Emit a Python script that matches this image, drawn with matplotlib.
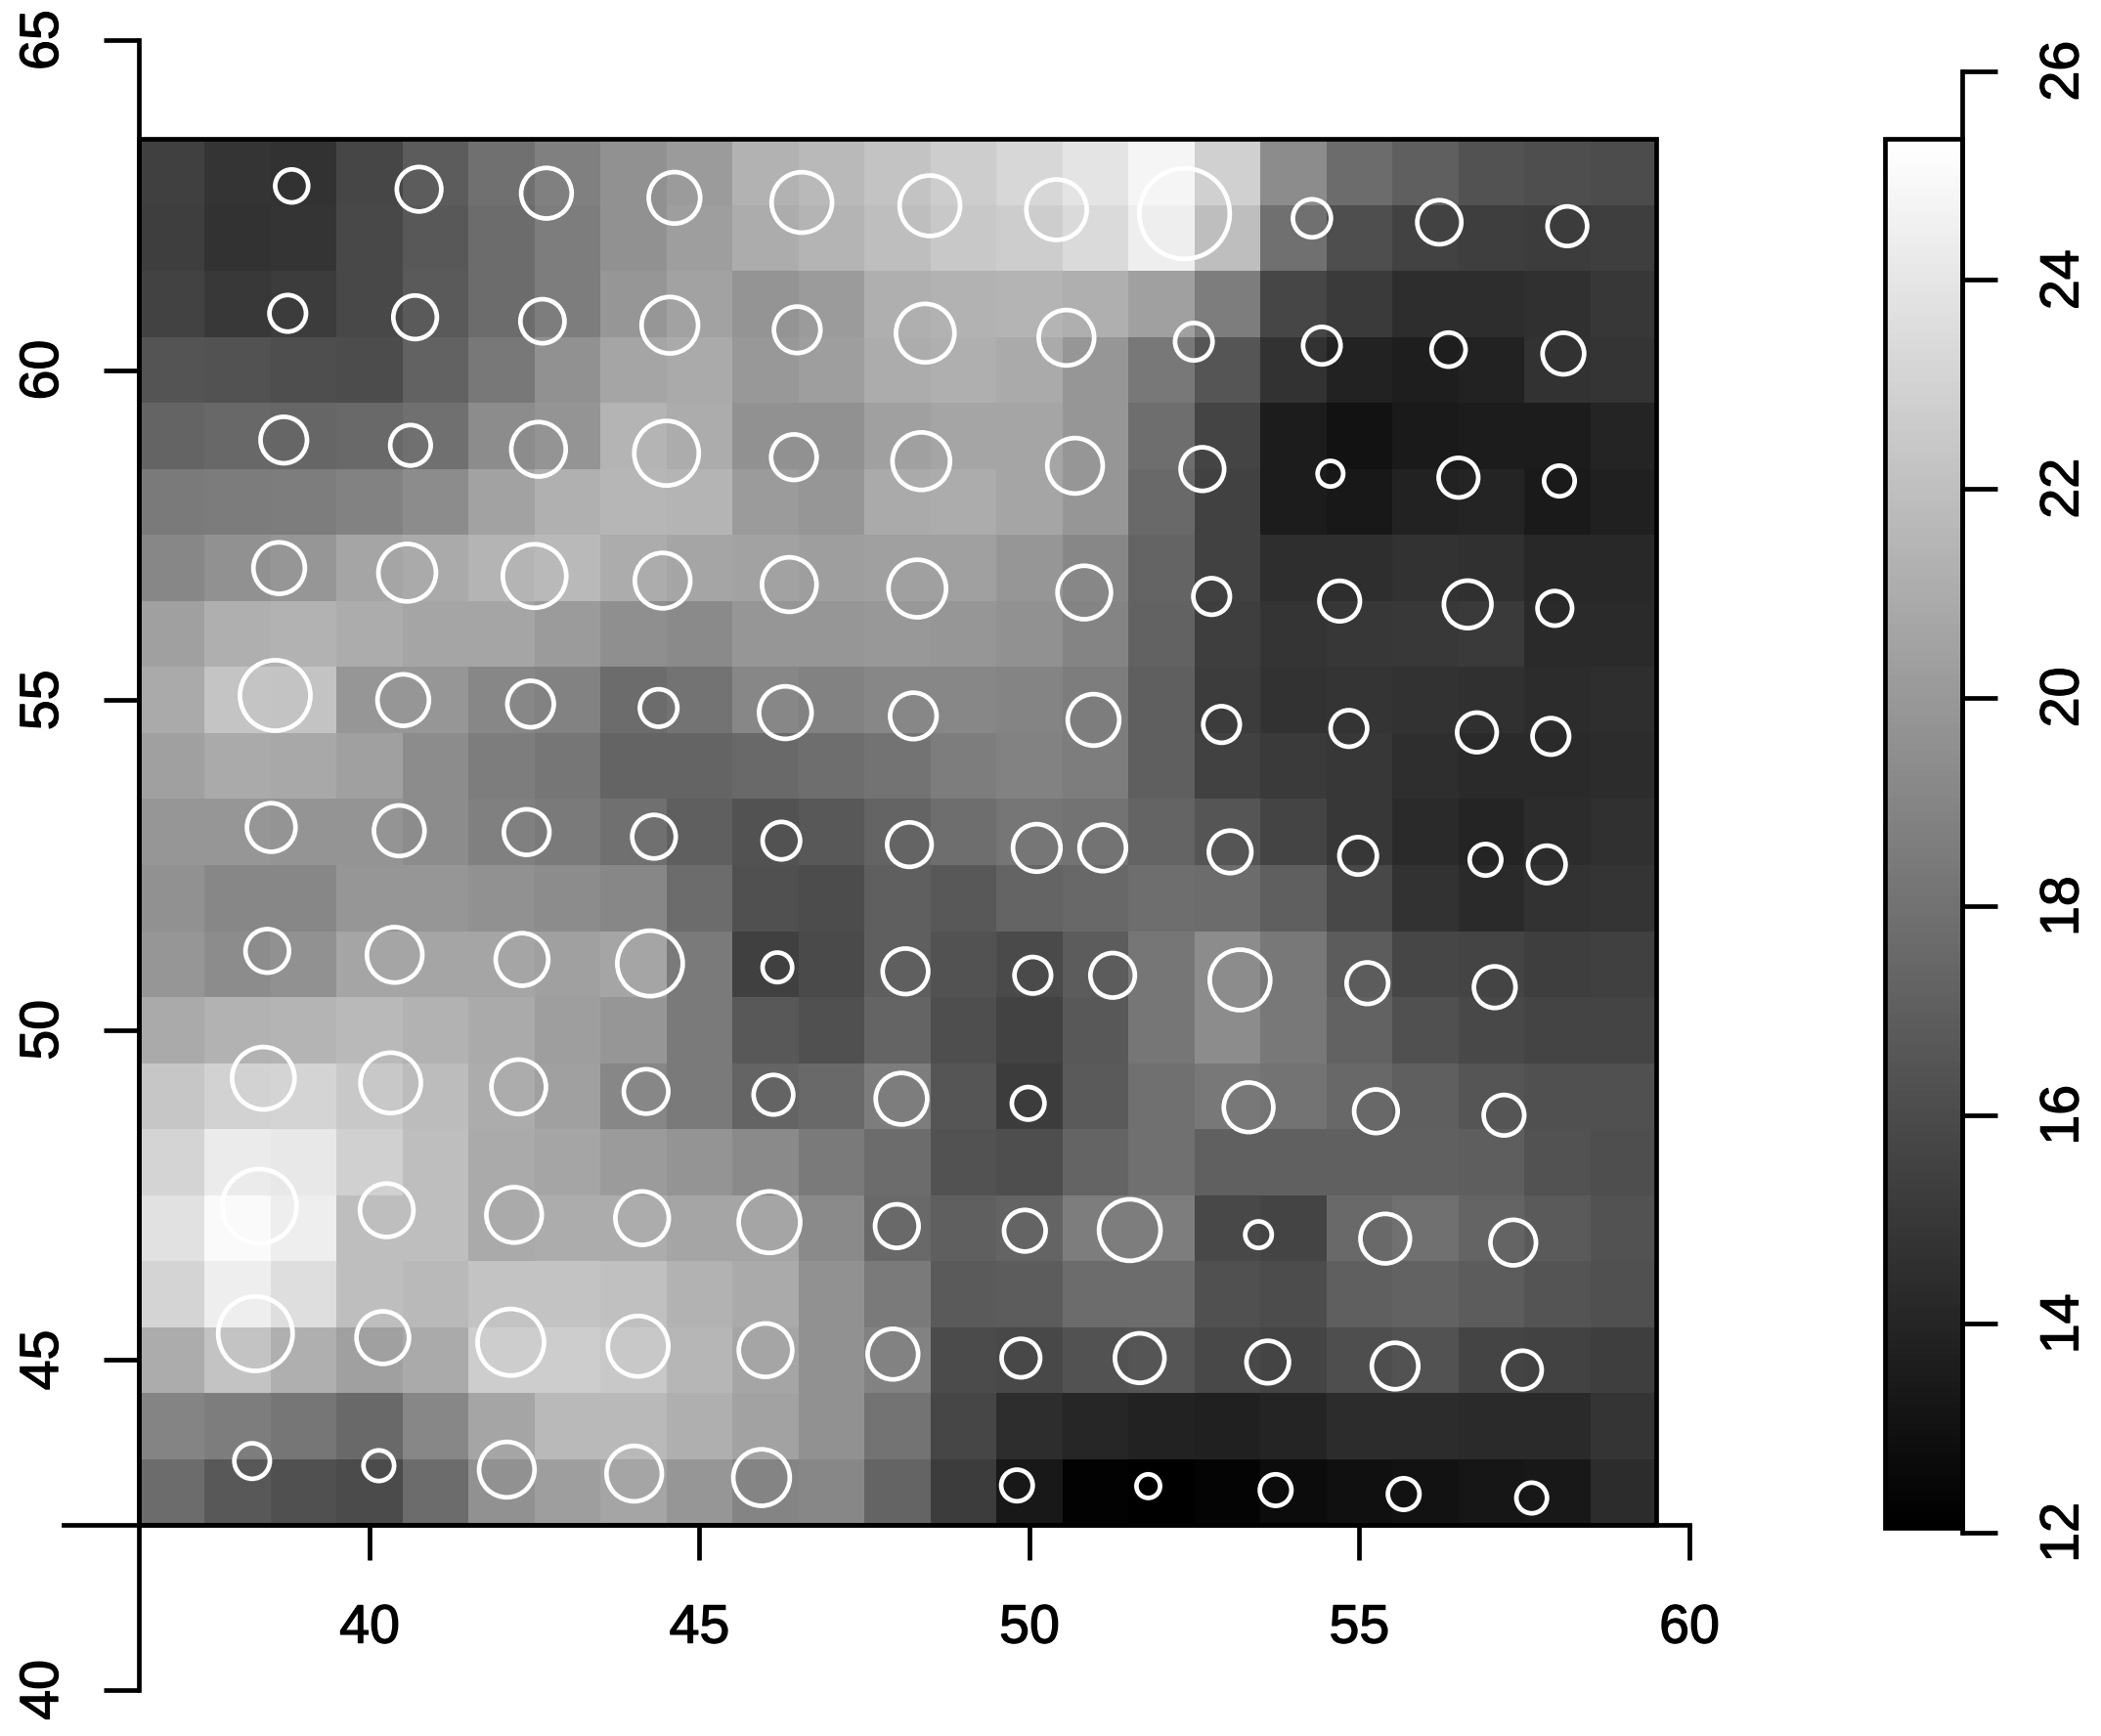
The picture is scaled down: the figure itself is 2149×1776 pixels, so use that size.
import numpy as np
import matplotlib
matplotlib.use("Agg")
import matplotlib.pyplot as plt
import matplotlib.patheffects as pe
from matplotlib.patches import Circle, Rectangle

plt.rcParams['font.family'] = ['Liberation Sans', 'DejaVu Sans']

# grid cell centres
lon = np.arange(37, 60)
lat = np.arange(43, 64)

# cell brightness (0 black .. 255 white), one list per latitude
r63 = [64,52,50,70,92,112,128,145,155,178,185,195,205,215,228,245,208,140,108,95,82,78,76]
r62 = [62,50,52,72,88,108,125,145,158,172,180,190,200,205,218,238,190,112,78,66,62,60,62]
r61 = [66,56,60,72,90,108,125,150,162,148,155,175,178,180,175,160,125,70,58,45,45,48,55]
r60 = [84,82,78,76,98,120,145,165,170,152,158,172,175,170,150,120,85,50,34,30,34,50,52]
r59 = [100,104,102,105,112,140,148,180,172,145,145,160,165,165,150,110,68,28,18,26,28,28,36]
r58 = [122,124,125,130,140,162,176,182,180,155,150,170,172,165,150,105,65,28,24,34,36,26,32]
r57 = [135,145,150,165,170,180,185,172,165,162,158,160,160,150,135,100,65,46,46,50,48,40,40]
r56 = [160,175,178,172,165,165,155,143,138,150,150,152,150,145,132,98,62,52,55,56,58,42,42]
r55 = [170,196,195,150,150,135,130,108,115,135,130,135,135,132,125,95,60,50,52,50,48,44,46]
r54 = [160,170,168,160,140,125,118,100,100,105,110,115,125,130,125,95,65,58,55,46,42,42,44]
r53 = [150,150,148,148,140,128,122,112,95,82,88,100,110,118,115,100,85,68,55,42,36,44,48]
r52 = [145,135,135,150,150,145,140,135,108,80,76,95,88,100,104,110,108,95,72,50,42,50,52]
r51 = [150,140,145,165,165,165,160,165,122,64,74,95,82,74,92,118,140,120,92,70,68,62,64]
r50 = [170,178,180,185,178,170,158,150,122,88,80,100,78,66,88,118,140,120,98,80,72,68,68]
r49 = [198,210,212,200,188,172,160,135,122,100,105,125,85,60,90,112,120,115,104,95,85,80,80]
r48 = [212,235,232,208,190,170,165,155,148,138,122,108,82,78,100,112,96,96,96,96,94,82,78]
r47 = [225,250,238,190,190,170,172,172,165,165,138,105,95,100,125,125,72,68,105,112,100,90,82]
r46 = [212,238,222,190,185,195,195,192,178,170,145,122,90,92,108,108,80,76,95,98,92,84,80]
r45 = [172,195,175,160,170,205,205,200,182,165,145,130,75,72,82,85,72,68,78,82,68,66,62]
r44 = [132,125,118,105,135,165,185,185,175,162,145,115,70,45,38,34,32,36,44,44,42,42,52]
r43 = [108,88,80,75,108,145,158,165,150,132,135,100,60,24,2,0,4,12,16,18,22,24,44]

# colour scale limits of the key
zmin = 12.05
zmax = 25.35

# circles, one list per row of the station lattice
ax_lon = [38.82,40.75,42.68,44.62,46.55,48.49,50.41,52.35,54.28,56.21,58.15]
ax_lat = [62.79,62.74,62.68,62.61,62.54,62.49,62.43,62.37,62.30,62.24,62.18]
ax_rad = [.250,.337,.383,.390,.458,.458,.458,.685,.288,.334,.300]

bx_lon = [38.76,40.69,42.62,44.55,46.48,48.42,50.56,52.49,54.43,56.35,58.09]
bx_lat = [60.86,60.80,60.74,60.68,60.61,60.56,60.49,60.43,60.37,60.31,60.25]
bx_rad = [.277,.330,.334,.428,.352,.443,.420,.284,.284,.258,.315]

cx_lon = [38.70,40.62,42.56,44.50,46.43,48.36,50.69,52.62,54.56,56.50,58.03]
cx_lat = [58.94,58.86,58.80,58.74,58.68,58.62,58.55,58.50,58.43,58.37,58.32]
cx_rad = [.352,.307,.413,.489,.345,.436,.420,.330,.194,.300,.232]

dx_lon = [38.63,40.57,42.50,44.44,46.36,48.30,50.83,52.76,54.70,56.64,57.96]
dx_lat = [57.00,56.93,56.88,56.81,56.75,56.69,56.63,56.57,56.50,56.45,56.39]
dx_rad = [.390,.436,.481,.420,.413,.436,.405,.277,.307,.360,.262]

ex_lon = [38.57,40.51,42.44,44.38,46.30,48.24,50.97,52.91,54.84,56.78,57.90]
ex_lat = [55.07,55.00,54.94,54.88,54.81,54.76,54.70,54.63,54.57,54.51,54.45]
ex_rad = [.534,.390,.352,.284,.398,.352,.390,.277,.277,.300,.277]

fx_lon = [38.51,40.45,42.38,44.31,46.24,48.18,50.11,51.11,53.04,54.98,56.91,57.84]
fx_lat = [53.07,53.02,53.00,52.93,52.87,52.81,52.76,52.76,52.70,52.64,52.58,52.51]
fx_rad = [.368,.383,.345,.330,.284,.337,.360,.352,.322,.284,.239,.284]

gx_lon = [38.45,40.38,42.31,44.25,46.18,48.12,50.05,51.26,53.19,55.12,57.05]
gx_lat = [51.20,51.14,51.07,51.01,50.95,50.89,50.83,50.83,50.76,50.71,50.65]
gx_rad = [.330,.420,.398,.496,.224,.345,.277,.337,.458,.315,.315]

hx_lon = [38.39,40.32,42.26,44.19,46.12,48.06,49.98,53.32,55.25,57.19]
hx_lat = [49.27,49.20,49.14,49.07,49.02,48.96,48.89,48.83,48.77,48.71]
hx_rad = [.473,.458,.413,.337,.300,.390,.247,.375,.330,.307]

ix_lon = [38.33,40.26,42.19,44.13,46.06,47.99,49.93,51.52,53.47,55.39,57.33]
ix_lat = [47.33,47.27,47.20,47.15,47.09,47.03,46.96,46.97,46.90,46.84,46.78]
ix_rad = [.564,.405,.420,.405,.466,.330,.315,.466,.201,.375,.345]

jx_lon = [38.27,40.20,42.14,44.07,46.00,47.93,49.87,51.67,53.61,55.54,57.47]
jx_lat = [45.40,45.34,45.27,45.21,45.15,45.09,45.03,45.03,44.97,44.91,44.85]
jx_rad = [.564,.398,.504,.458,.405,.383,.292,.375,.322,.352,.292]

kx_lon = [38.22,40.14,42.08,44.01,45.94,49.81,51.80,53.73,55.67,57.61]
kx_lat = [43.47,43.40,43.34,43.28,43.22,43.10,43.09,43.03,42.97,42.91]
kx_rad = [.269,.232,.420,.420,.428,.239,.179,.239,.239,.232]

x_ticks = [40, 45, 50, 55, 60]
y_ticks = [40, 45, 50, 55, 60, 65]
key_ticks = [12, 14, 16, 18, 20, 22, 24, 26]

W = 2149
H = 1776
LW = 3.4
TICK = 25.9
heavier = [pe.withStroke(linewidth=0.9, foreground='black')]

levels = np.array([r43,r44,r45,r46,r47,r48,r49,r50,r51,r52,r53,r54,r55,r56,r57,r58,r59,r60,r61,r62,r63], dtype=float)
z = zmin + levels / 255 * (zmax - zmin)

fig = plt.figure(figsize=(W / 100, H / 100), dpi=100)

# main panel, the axes run out to the ends of the R style axis lines
ax = fig.add_axes([65 / W, 1 - 1729 / H, (1728 - 65) / W, (1729 - 41) / H])
ax.set_xlim(35.363, 60)
ax.set_ylim(40, 65)
ax.pcolormesh(np.arange(36.5, 60), np.arange(42.5, 64), z, cmap='gray', vmin=zmin, vmax=zmax, shading='flat')
ax.add_patch(Rectangle((36.5, 42.5), 23, 21, fill=False, ec='black', lw=LW, zorder=3))

rows = [(ax_lon, ax_lat, ax_rad), (bx_lon, bx_lat, bx_rad), (cx_lon, cx_lat, cx_rad),
        (dx_lon, dx_lat, dx_rad), (ex_lon, ex_lat, ex_rad), (fx_lon, fx_lat, fx_rad),
        (gx_lon, gx_lat, gx_rad), (hx_lon, hx_lat, hx_rad), (ix_lon, ix_lat, ix_rad),
        (jx_lon, jx_lat, jx_rad), (kx_lon, kx_lat, kx_rad)]
for xs, ys, rs in rows:
    for x, y, r in zip(xs, ys, rs):
        ax.add_patch(Circle((x, y), r, fill=False, ec='white', lw=LW, zorder=4))

for s in ['top', 'right']:
    ax.spines[s].set_visible(False)
ax.spines['left'].set_position(('data', 36.5))
ax.spines['bottom'].set_position(('data', 42.5))
ax.spines['left'].set_linewidth(LW)
ax.spines['bottom'].set_linewidth(LW)
ax.spines['left'].set_zorder(5)
ax.spines['bottom'].set_zorder(5)

ax.set_xticks(x_ticks)
ax.set_yticks(y_ticks)
ax.tick_params(axis='x', length=TICK, width=LW, pad=32, labelsize=40)
ax.tick_params(axis='y', length=TICK, width=LW, pad=25, labelsize=40)
for t in ax.get_yticklabels():
    t.set_rotation(90)
    t.set_va('center')
    t.set_path_effects(heavier)
for t in ax.get_xticklabels():
    t.set_path_effects(heavier)

# grey key on the right
cax = fig.add_axes([1928 / W, 1 - 1568 / H, (2006.5 - 1928) / W, (1568 - 72.7) / H])
cax.set_xlim(0, 1)
cax.set_ylim(12, 26)
key_vals = np.linspace(zmin, zmax, 200)
cax.pcolormesh([0, 1], np.linspace(zmin, zmax, 201), key_vals[:, None], cmap='gray', vmin=zmin, vmax=zmax)
cax.add_patch(Rectangle((0, zmin), 1, zmax - zmin, fill=False, ec='black', lw=LW, clip_on=False, zorder=3))
for s in ['top', 'left', 'bottom']:
    cax.spines[s].set_visible(False)
cax.spines['right'].set_linewidth(LW)
cax.spines['right'].set_zorder(5)
cax.set_xticks([])
cax.yaxis.tick_right()
cax.set_yticks(key_ticks)
cax.tick_params(axis='y', length=TICK, width=LW, pad=31, labelsize=40)
for t in cax.get_yticklabels():
    t.set_rotation(90)
    t.set_va('center')
    t.set_path_effects(heavier)

fig.savefig('out.png', dpi=100)
